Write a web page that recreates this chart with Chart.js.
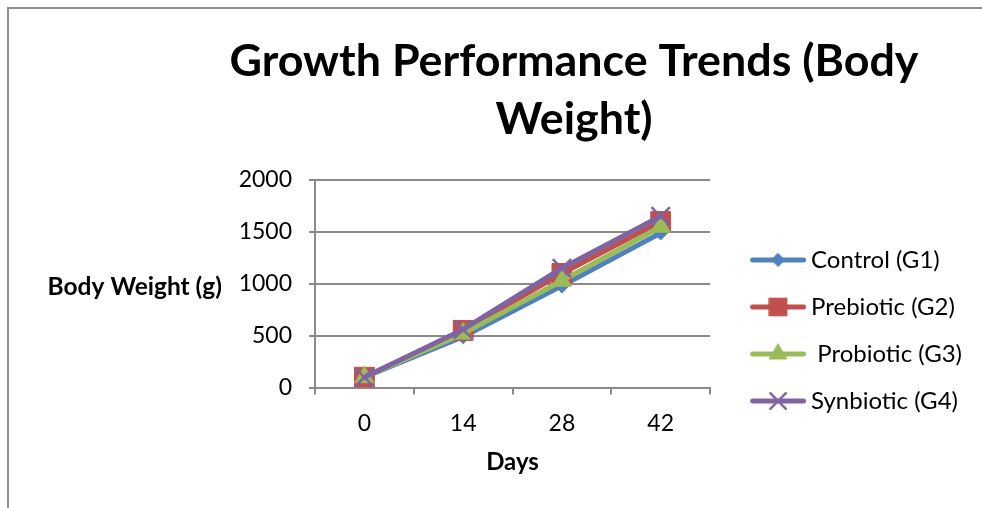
<!DOCTYPE html>
<html>
<head>
<meta charset="utf-8">
<title>Growth Performance Trends (Body Weight)</title>
<script src="https://cdn.jsdelivr.net/npm/chart.js@4.4.1/dist/chart.umd.min.js"></script>
<style>
  html, body { margin: 0; padding: 0; overflow: hidden; background: #ffffff; }
  #frame {
    position: absolute; left: 7px; top: 7px; width: 1400px; height: 900px;
    border: 2px solid #8f8f8f; box-sizing: border-box;
  }
  #wrap { position: absolute; left: 0; top: 0; width: 982px; height: 508px; }
</style>
</head>
<body>
<div id="frame"></div>
<div id="wrap"><canvas id="chart" width="982" height="508"></canvas></div>
<script>
// Body weight (g) of each group at each sampling day
const days = ['0', '14', '28', '42'];
const control   = [100, 490, 980, 1490];
const prebiotic = [100, 550, 1100, 1600];
const probiotic = [100, 520, 1030, 1550];
const synbiotic = [100, 560, 1150, 1650];

const seriesNames = ['Control (G1)', 'Prebiotic (G2)', ' Probiotic (G3)', 'Synbiotic (G4)'];
const weightTicks = [0, 500, 1000, 1500, 2000];
const chartTitle = ['Growth Performance Trends (Body', 'Weight)'];
const xTitle = 'Days';
const yTitle = 'Body Weight (g)';

const FONT = "Lato, 'Open Sans', sans-serif";
const GRID = '#8a8a8a';

// Line colour and marker for each series
const seriesStyle = [
  { color: '#4F81BD', marker: 'rectRot',  radius: 7,  border: 1,   legendRadius: 6.5 },
  { color: '#C0504D', marker: 'rect',     radius: 14, border: 1,   legendRadius: 12.5 },
  { color: '#9BBB59', marker: 'triangle', radius: 11, border: 1,   legendRadius: 10 },
  { color: '#8064A2', marker: 'crossRot', radius: 13, border: 2.5, legendRadius: 11 }
];
const seriesData = [control, prebiotic, probiotic, synbiotic];

// Draws one marker shape on a 2d context (same geometry as Chart.js point styles)
function drawMarker(g, style, r, x, y) {
  g.beginPath();
  if (style === 'rectRot') {
    g.moveTo(x, y - r); g.lineTo(x + r, y); g.lineTo(x, y + r); g.lineTo(x - r, y); g.closePath();
    g.fill(); g.stroke();
  } else if (style === 'rect') {
    const s = r * Math.SQRT1_2;
    g.rect(x - s, y - s, 2 * s, 2 * s);
    g.fill(); g.stroke();
  } else if (style === 'triangle') {
    g.moveTo(x, y - r);
    g.lineTo(x + 0.866 * r, y + 0.5 * r);
    g.lineTo(x - 0.866 * r, y + 0.5 * r);
    g.closePath();
    g.fill(); g.stroke();
  } else if (style === 'crossRot') {
    const s = r * Math.SQRT1_2;
    g.moveTo(x - s, y - s); g.lineTo(x + s, y + s);
    g.moveTo(x + s, y - s); g.lineTo(x - s, y + s);
    g.stroke();
  }
}

// Legend key: a short line segment with the series marker in its middle
function legendSymbol(st) {
  const c = document.createElement('canvas');
  c.width = 80; c.height = 26;
  const g = c.getContext('2d');
  g.strokeStyle = st.color; g.fillStyle = st.color;
  g.lineCap = 'round'; g.lineWidth = 5;
  g.beginPath(); g.moveTo(26.5, 13); g.lineTo(77.5, 13); g.stroke();
  g.lineWidth = st.border;
  drawMarker(g, st.marker, st.legendRadius, 52, 13);
  return c;
}

// Horizontal value-axis caption to the left of the tick labels
const yCaption = {
  id: 'yCaption',
  afterDraw(chart) {
    const { ctx, chartArea } = chart;
    ctx.save();
    ctx.font = 'bold 24.5px ' + FONT;
    ctx.fillStyle = '#000';
    ctx.textAlign = 'right';
    ctx.textBaseline = 'middle';
    ctx.fillText(yTitle, chartArea.left - 93, (chartArea.top + chartArea.bottom) / 2 + 3);
    ctx.restore();
  }
};

function build() {
  const symbols = seriesStyle.map(legendSymbol);

  const datasets = seriesData.map((values, i) => {
    const st = seriesStyle[i];
    return {
      label: seriesNames[i],
      data: values,
      borderColor: st.color,
      backgroundColor: st.color,
      borderWidth: 5,
      borderJoinStyle: 'round',
      borderCapStyle: 'round',
      tension: 0,
      pointStyle: st.marker,
      pointRadius: st.radius,
      pointHoverRadius: st.radius,
      pointBorderWidth: st.border,
      pointBackgroundColor: st.color,
      pointBorderColor: st.color,
      // later series are painted on top
      order: seriesData.length - 1 - i
    };
  });

  new Chart(document.getElementById('chart'), {
    type: 'line',
    data: { labels: days, datasets },
    options: {
      responsive: false,
      animation: false,
      events: [],
      layout: { padding: { left: 176, right: 10, top: 0, bottom: 0 } },
      plugins: {
        title: {
          display: true,
          text: chartTitle,
          color: '#000',
          font: { family: FONT, size: 44.8, weight: 'bold', lineHeight: 58 / 44.8 },
          padding: { top: 33, bottom: 31 }
        },
        legend: {
          display: true,
          position: 'right',
          align: 'start',
          maxWidth: 400,
          title: { display: true, text: '', font: { size: 10, lineHeight: 1 }, padding: { top: 215, bottom: 0 } },
          labels: {
            usePointStyle: true,
            pointStyleWidth: 66,
            padding: 23,
            color: '#000',
            font: { family: FONT, size: 24 },
            sort: (a, b) => a.datasetIndex - b.datasetIndex,
            generateLabels(chart) {
              const items = Chart.defaults.plugins.legend.labels.generateLabels(chart);
              items.forEach((it) => { it.pointStyle = symbols[it.datasetIndex]; });
              return items;
            }
          }
        },
        tooltip: { enabled: false }
      },
      scales: {
        x: {
          type: 'category',
          offset: true,
          grid: { display: true, drawOnChartArea: false, drawTicks: true, tickLength: 7, offset: true, color: GRID, lineWidth: 2 },
          border: { display: true, color: GRID, width: 2 },
          ticks: { color: '#000', font: { family: FONT, size: 23 }, padding: 15, maxRotation: 0 },
          title: {
            display: true, text: xTitle, color: '#000',
            font: { family: FONT, size: 24, weight: 'bold' },
            padding: { top: -4, bottom: 31 }
          }
        },
        y: {
          min: 0,
          max: 2000,
          afterBuildTicks(scale) { scale.ticks = weightTicks.map((v) => ({ value: v })); },
          afterFit(scale) { scale.width = 139; },
          grid: { display: true, drawTicks: true, tickLength: 6, color: GRID, lineWidth: 2 },
          border: { display: true, color: GRID, width: 2 },
          ticks: { color: '#000', font: { family: FONT, size: 23 }, padding: 17, callback: (v) => String(v) }
        }
      }
    },
    plugins: [yCaption]
  });
}

const ready = document.fonts && document.fonts.load
  ? Promise.all([document.fonts.load('bold 44px Lato'), document.fonts.load('24px Lato')])
  : Promise.resolve();
ready.then(build, build);
</script>
</body>
</html>
